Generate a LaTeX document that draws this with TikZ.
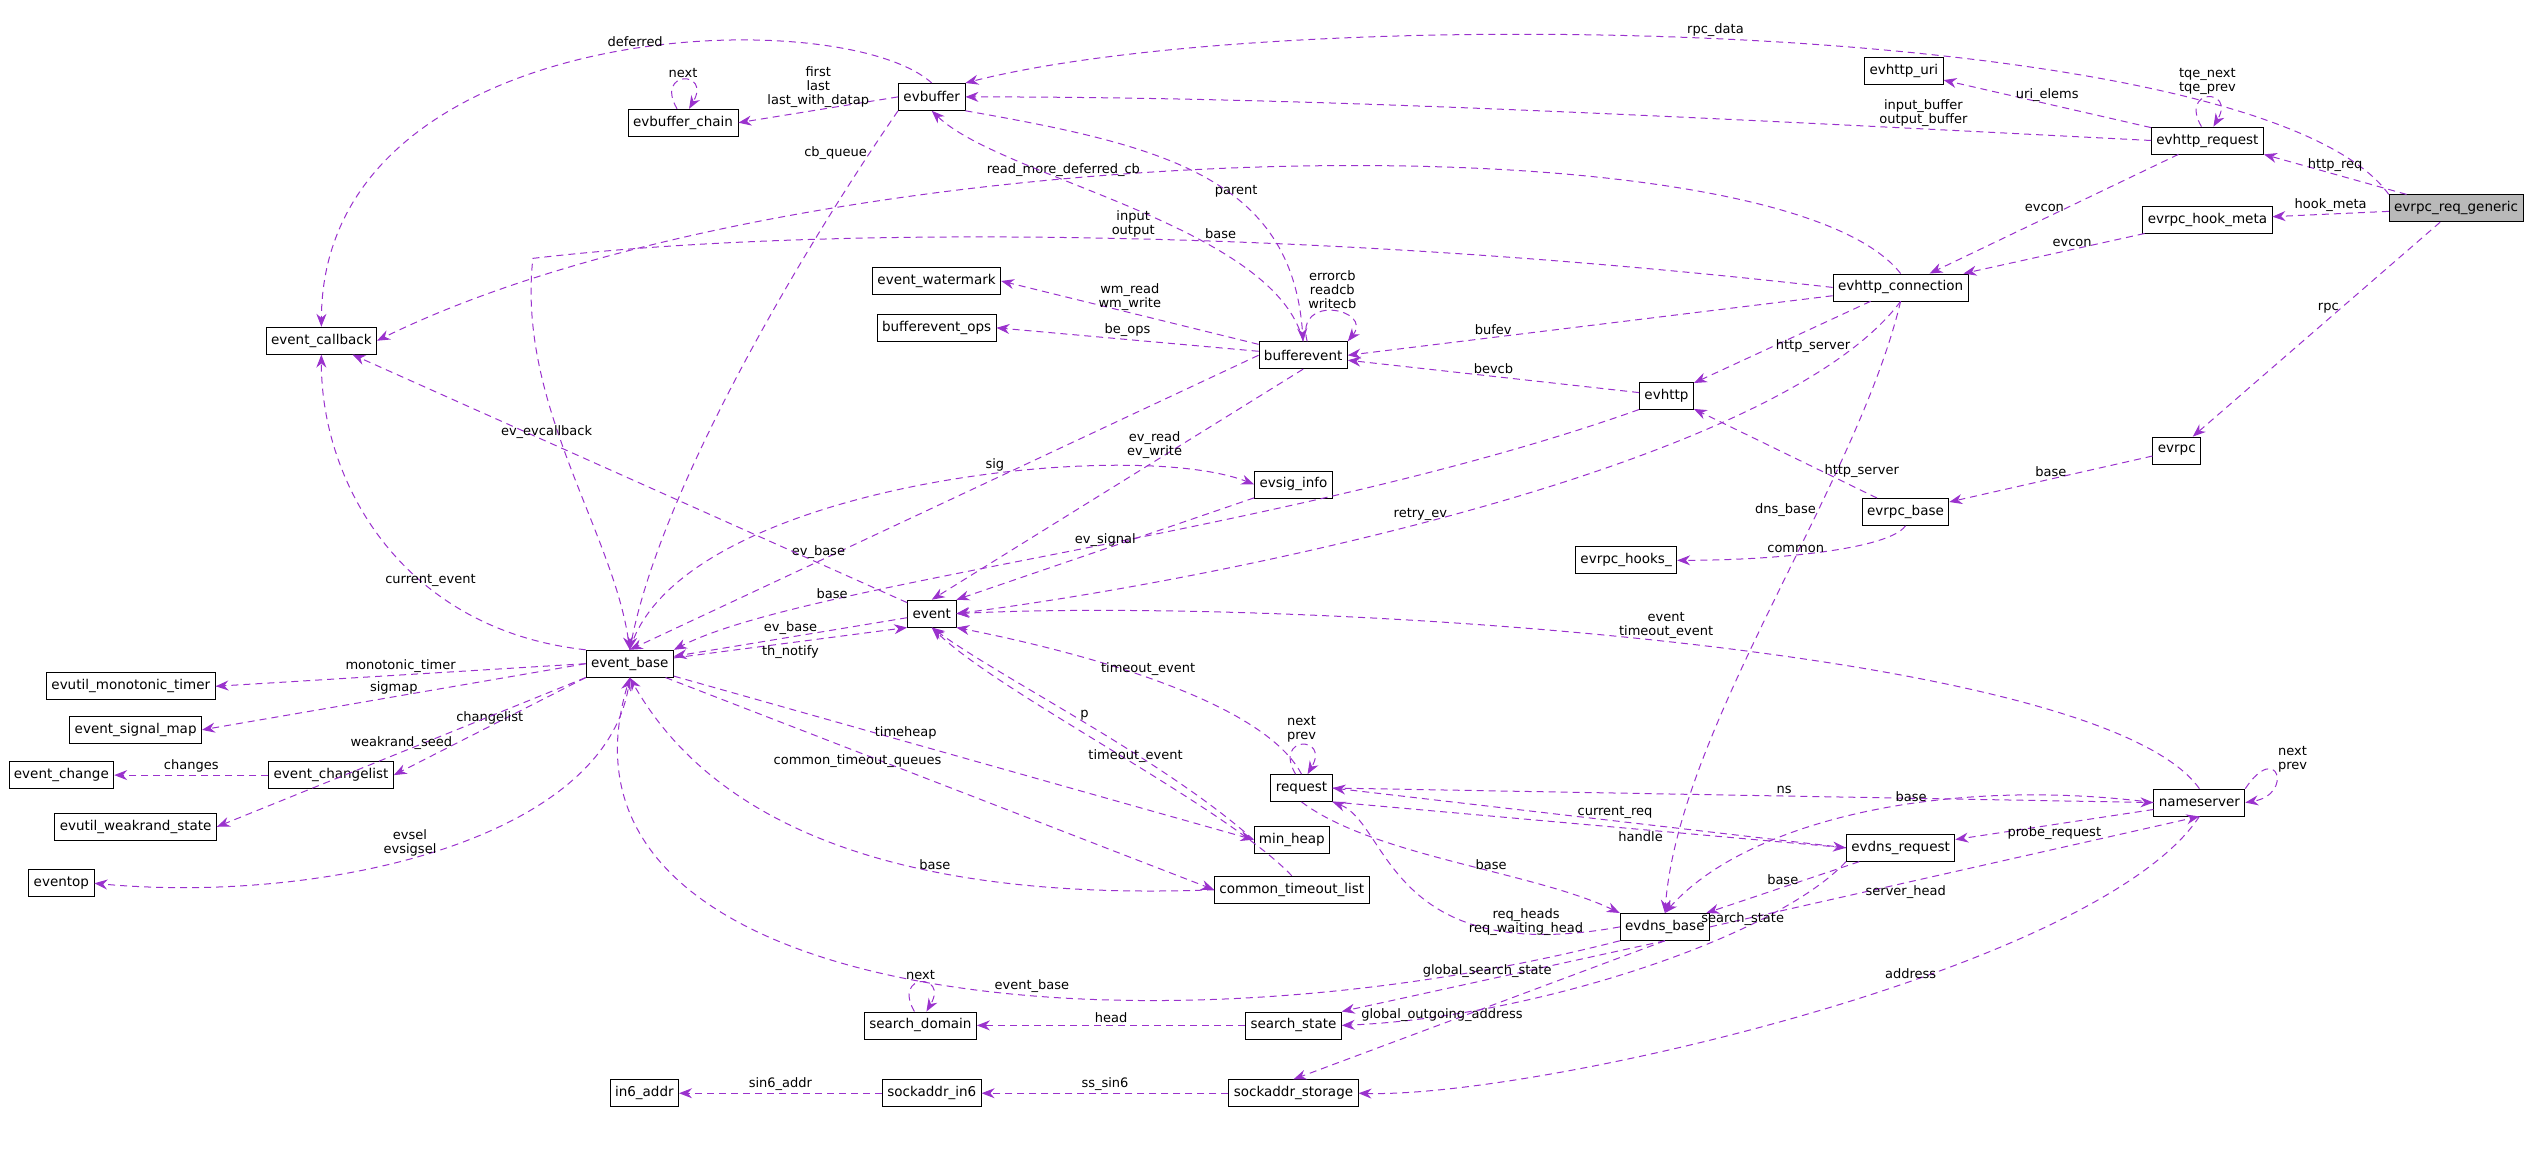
\documentclass[tikz,border=0pt]{standalone}
\usepackage{fontspec}
\setmainfont{DejaVu Sans}
\usetikzlibrary{arrows.meta}
\definecolor{edgec}{HTML}{9A32CD}
\tikzset{
  cls/.style={draw, thick, fill=white, rectangle, inner xsep=5pt, inner ysep=0pt, minimum height=27pt, font=\fontsize{13.5}{15}\selectfont},
  ed/.style={draw=edgec, dashed, dash pattern=on 7pt off 5pt, line width=1pt, -{Stealth[length=13pt,width=10pt]}},
  lbl/.style={font=\fontsize{13}{14}\selectfont, align=center, inner sep=2pt}
}
\begin{document}
\begin{tikzpicture}[x=1.615pt, y=-1.615pt]
\useasboundingbox (0,0) rectangle (1568,719);

% classes
\node[cls, fill=gray!55] (gen) at (1521,129) {evrpc\_req\_generic};
\node[cls] (hreq) at (1367,87) {evhttp\_request};
\node[cls] (uri) at (1179,44) {evhttp\_uri};
\node[cls] (hook) at (1367,136) {evrpc\_hook\_meta};
\node[cls] (conn) at (1177,178) {evhttp\_connection};
\node[cls] (rpc) at (1348,279) {evrpc};
\node[cls] (rpcbase) at (1180,317) {evrpc\_base};
\node[cls] (http) at (1032,245) {evhttp};
\node[cls] (hooks) at (1007,347) {evrpc\_hooks\_};
\node[cls] (buf) at (577,60) {evbuffer};
\node[cls] (chain) at (423,76) {evbuffer\_chain};
\node[cls] (evcb) at (199,211) {event\_callback};
\node[cls] (wm) at (580,174) {event\_watermark};
\node[cls] (ops) at (580,203) {bufferevent\_ops};
\node[cls] (bev) at (807,220) {bufferevent};
\node[cls] (sig) at (801,300) {evsig\_info};
\node[cls] (ev) at (577,380) {event};
\node[cls] (base) at (390,411) {event\_base};
\node[cls] (mono) at (81,425) {evutil\_monotonic\_timer};
\node[cls] (sigmap) at (84,452) {event\_signal\_map};
\node[cls] (change) at (38,480) {event\_change};
\node[cls] (clist) at (205,480) {event\_changelist};
\node[cls] (rand) at (84,512) {evutil\_weakrand\_state};
\node[cls] (eop) at (38,547) {eventop};
\node[cls] (req) at (806,488) {request};
\node[cls] (heap) at (800,520) {min\_heap};
\node[cls] (ctl) at (800,551) {common\_timeout\_list};
\node[cls] (ns) at (1362,497) {nameserver};
\node[cls] (dreq) at (1177,525) {evdns\_request};
\node[cls] (dbase) at (1031,574) {evdns\_base};
\node[cls] (sdom) at (570,635) {search\_domain};
\node[cls] (sst) at (801,635) {search\_state};
\node[cls] (in6a) at (399,677) {in6\_addr};
\node[cls] (sin6) at (577,677) {sockaddr\_in6};
\node[cls] (sst2) at (801,677) {sockaddr\_storage};

% top right
\draw[ed] (gen.north west) .. controls (1400,10) and (800,0) .. node[lbl,above,pos=.52]{rpc\_data} (buf.north east);
\draw[ed] (gen) -- node[lbl,above]{http\_req} (hreq.south east);
\draw[ed] (gen) -- node[lbl,above]{hook\_meta} (hook);
\draw[ed] (gen) -- node[lbl,left,pos=.4]{rpc} (rpc);
\draw[ed] (hreq) -- node[lbl,above]{uri\_elems} (uri);
\draw[ed] ([xshift=-6pt]hreq.north) .. controls +(-14,-24) and +(14,-24) .. node[lbl,above]{tqe\_next\\tqe\_prev} ([xshift=6pt]hreq.north);
\draw[ed] (hreq.west) .. controls (1000,70) and (800,60) .. node[lbl,above,pos=.15]{input\_buffer\\output\_buffer} (buf.east);
\draw[ed] (hreq) -- node[lbl,left,pos=.45]{evcon} (conn);
\draw[ed] (hook) -- node[lbl,above,pos=.4]{evcon} (conn);
\draw[ed] (conn.north) .. controls (1100,70) and (500,80) .. node[lbl,above,pos=.6]{read\_more\_deferred\_cb} (evcb.east);
\draw[ed] (conn.west) .. controls (800,140) and (500,140) .. node[lbl,above,pos=.4]{base} (330,160) .. controls (320,250) and (380,330) .. (base.north);
\draw[ed] (conn) -- node[lbl,above,pos=.7]{bufev} (bev.east);
\draw[ed] (conn) -- node[lbl,right,pos=.55]{http\_server} (http);
\draw[ed] (conn.south) .. controls (1100,290) and (750,360) .. node[lbl,above,pos=.55]{retry\_ev} (ev.east);
\draw[ed] (conn.south) .. controls (1150,300) and (1040,450) .. node[lbl,left,pos=.35]{dns\_base} (dbase.north);
\draw[ed] (rpcbase) -- node[lbl,right,pos=.3]{http\_server} (http);
\draw[ed] (rpc) -- node[lbl,above,pos=.5]{base} (rpcbase);
\draw[ed] (rpcbase.south) .. controls (1170,340) and (1100,347) .. node[lbl,above,pos=.6]{common} (hooks.east);
\draw[ed] (http) -- node[lbl,above]{bevcb} (bev);
\draw[ed] (http.south west) .. controls (800,330) and (500,360) .. node[lbl,above,pos=.75]{base} (base.north east);

% evbuffer and bufferevent
\draw[ed] (buf.west) -- node[lbl,above]{first\\last\\last\_with\_datap} (chain.east);
\draw[ed] ([xshift=-6pt]chain.north) .. controls +(-14,-24) and +(14,-24) .. node[lbl,above]{next} ([xshift=6pt]chain.north);
\draw[ed] (buf.north) .. controls (520,0) and (200,10) .. node[lbl,above,pos=.45]{deferred} (evcb.north);
\draw[ed] (buf.south west) .. controls (500,150) and (410,300) .. node[lbl,left,pos=.1]{cb\_queue} (base.north);
\draw[ed] (bev.north) .. controls (790,140) and (620,110) .. node[lbl,below,pos=.5]{input\\output} (buf.south);
\draw[ed] (buf.south east) .. controls (720,90) and (800,110) .. node[lbl,above,pos=.6]{parent} (bev.north);
\draw[ed] (bev) -- node[lbl,above]{wm\_read\\wm\_write} (wm.east);
\draw[ed] (bev) -- node[lbl,above]{be\_ops} (ops.east);
\draw[ed] ([xshift=4pt]bev.north) .. controls +(-8,-30) and +(16,-20) .. node[lbl,above]{errorcb\\readcb\\writecb} (bev.north east);
\draw[ed] (bev.west) -- node[lbl,above,pos=.7]{ev\_base} (base.north);
\draw[ed] (bev.south) -- node[lbl,above,pos=.4]{ev\_read\\ev\_write} (ev.north);
\draw[ed] (base.north) .. controls (420,300) and (700,270) .. node[lbl,above,pos=.6]{sig} (sig.west);
\draw[ed] (sig) -- node[lbl,above]{ev\_signal} (ev.north east);
\draw[ed] (ev) -- node[lbl,above,pos=.65]{ev\_evcallback} (evcb);
\draw[ed] (base.north west) .. controls (250,390) and (199,300) .. node[lbl,above,pos=.35]{current\_event} (evcb.south);

% event_base
\draw[ed] (ev) -- node[lbl,above]{ev\_base} (base);
\draw[ed] (base) -- node[lbl,below]{th\_notify} (ev.south west);
\draw[ed] (base.west) -- node[lbl,above]{monotonic\_timer} (mono.east);
\draw[ed] (base.west) -- node[lbl,above]{sigmap} (sigmap.east);
\draw[ed] (base.south west) -- node[lbl,above,pos=.5]{changelist} (clist.east);
\draw[ed] (clist) -- node[lbl,above]{changes} (change);
\draw[ed] (base.south west) -- node[lbl,above,pos=.5]{weakrand\_seed} (rand.east);
\draw[ed] (base.south) .. controls (380,520) and (200,560) .. node[lbl,above,pos=.55]{evsel\\evsigsel} (eop.east);
\draw[ed] (base) -- node[lbl,above,pos=.4]{timeheap} (heap.west);
\draw[ed] (heap.west) .. controls (720,470) and (620,420) .. node[lbl,above,pos=.5]{p} (ev.south);
\draw[ed] (base) -- node[lbl,below,pos=.35]{common\_timeout\_queues} (ctl.west);
\draw[ed] (ctl.north) .. controls (760,500) and (620,430) .. node[lbl,above,pos=.45]{timeout\_event} (ev.south);
\draw[ed] (ctl.west) .. controls (520,560) and (430,490) .. node[lbl,above,pos=.3]{base} (base.south);

% dns
\draw[ed] (req.north) .. controls (780,430) and (650,400) .. node[lbl,above,pos=.5]{timeout\_event} (ev.south east);
\draw[ed] ([xshift=-6pt]req.north) .. controls +(-14,-24) and +(14,-24) .. node[lbl,above]{next\\prev} ([xshift=6pt]req.north);
\draw[ed] (ns.north) .. controls (1300,400) and (800,370) .. node[lbl,above,pos=.5]{event\\timeout\_event} (ev.east);
\draw[ed] (ns.north east) .. controls +(20,-30) and +(30,-5) .. node[lbl,above right]{next\\prev} (ns.east);
\draw[ed] (req.east) -- node[lbl,above,pos=.55]{ns} (ns.west);
\draw[ed] (dreq.west) -- node[lbl,above,pos=.45]{current\_req} (req.east);
\draw[ed] (req.south east) -- node[lbl,below,pos=.6]{handle} (dreq.west);
\draw[ed] (req.south) .. controls (850,530) and (950,540) .. node[lbl,above,pos=.6]{base} (dbase.north west);
\draw[ed] (dbase.west) .. controls (860,600) and (860,510) .. node[lbl,right,pos=.3]{req\_heads\\req\_waiting\_head} (req.south east);
\draw[ed] (ns) -- node[lbl,below,pos=.5]{probe\_request} (dreq);
\draw[ed] (dreq) -- node[lbl,above,pos=.5]{base} (dbase);
\draw[ed] (ns.west) .. controls (1200,480) and (1080,510) .. node[lbl,above,pos=.4]{base} (dbase.north);
\draw[ed] (dbase.east) -- node[lbl,below,pos=.4]{server\_head} (ns.south);
\draw[ed] (dbase.south west) .. controls (700,660) and (330,620) .. node[lbl,above,pos=.4]{event\_base} (base.south);
\draw[ed] (dbase.south) -- node[lbl,above,pos=.55]{global\_search\_state} (sst.north east);
\draw[ed] (dreq.south west) .. controls (1100,580) and (950,630) .. node[lbl,above,pos=.3]{search\_state} (sst.east);
\draw[ed] (sst) -- node[lbl,above]{head} (sdom);
\draw[ed] ([xshift=-6pt]sdom.north) .. controls +(-14,-24) and +(14,-24) .. node[lbl,above]{next} ([xshift=6pt]sdom.north);
\draw[ed] (dbase.south) -- node[lbl,above,pos=.6]{global\_outgoing\_address} (sst2.north);
\draw[ed] (ns.south) .. controls (1300,600) and (950,680) .. node[lbl,above,pos=.4]{address} (sst2.east);
\draw[ed] (sst2) -- node[lbl,above]{ss\_sin6} (sin6);
\draw[ed] (sin6) -- node[lbl,above]{sin6\_addr} (in6a);
\end{tikzpicture}
\end{document}
